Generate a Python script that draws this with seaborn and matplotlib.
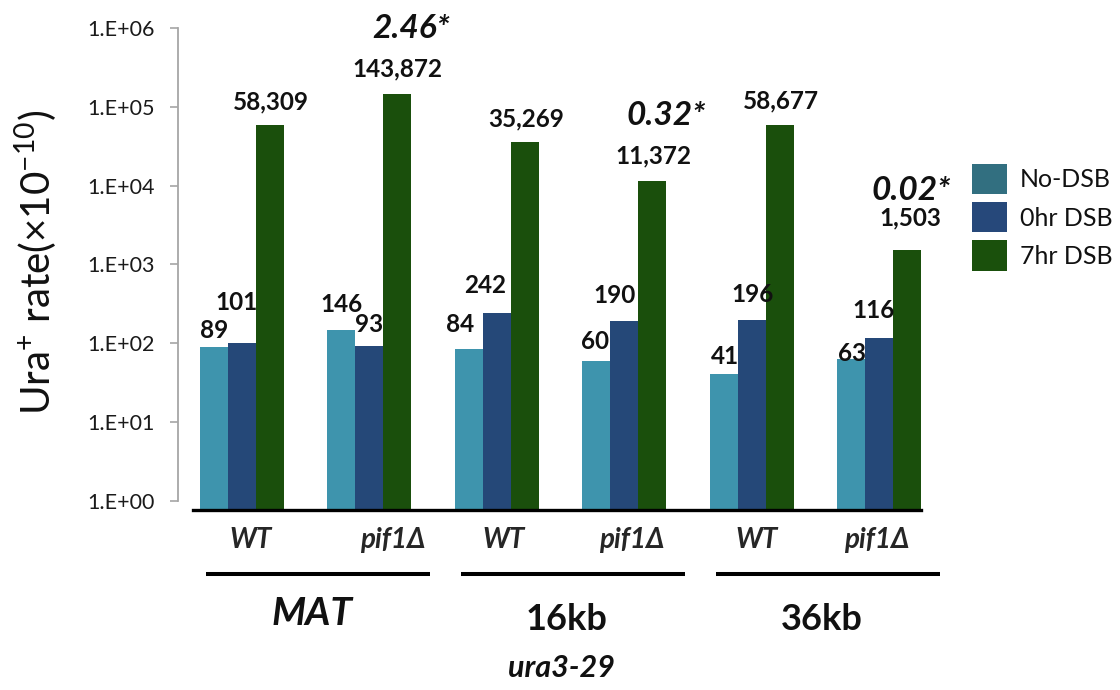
import numpy as np
import pandas as pd
import matplotlib
matplotlib.use("Agg")
import matplotlib.pyplot as plt
import seaborn as sns
from matplotlib.patches import Patch
from matplotlib.transforms import ScaledTranslation, blended_transform_factory

# ---------------- data ----------------
groups = ["MAT WT", "MAT pif1Δ", "16kb WT", "16kb pif1Δ", "36kb WT", "36kb pif1Δ"]
strain_labels = ["WT", "pif1Δ", "WT", "pif1Δ", "WT", "pif1Δ"]
loci = ["MAT", "16kb", "36kb"]
gene = "ura3-29"
conditions = ["No-DSB", "0hr DSB", "7hr DSB"]
no_dsb = [89, 146, 84, 60, 41, 63]
hr0_dsb = [101, 93, 242, 190, 196, 116]
hr7_dsb = [58309, 143872, 35269, 11372, 58677, 1503]
fold_labels = ["", "2.46*", "", "0.32*", "", "0.02*"]
ytick_values = [1, 10, 100, 1000, 10000, 100000, 1000000]
ytick_labels = ["1.E+00", "1.E+01", "1.E+02", "1.E+03", "1.E+04", "1.E+05", "1.E+06"]
ylabel = r"Ura$^{\mathregular{+}}$ rate(×10$^{\mathregular{-10}}$)"

# ---------------- style ----------------
bar_colors = ["#3e94ad", "#254878", "#1a4f0c"]
legend_colors = ["#326f80", "#26487a", "#1a500c"]

# label offsets (pixels): dx from bar centre, gap above bar top
label_dx = [[0, 0, -9, -1, 1, 1], [-5, 0, -12, -10, 1, -6], [1, 0, 1, 1, 1, 3]]
label_gap = [[9, 18, 17, 12, 10, -2], [33, 14, 20, 18, 18, 20], [16, 18, 16, 18, 17, 25]]
fold_dx = [0, 14, 0, 14, 0, 4]
fold_gap = [0, 56, 0, 56, 0, 50]
tick_dx = [9, 23, 7, 7, 5, -3]

sns.set_theme(style="white")
plt.rcParams["font.family"] = ["Lato", "DejaVu Sans"]
plt.rcParams["mathtext.fontset"] = "custom"
plt.rcParams["mathtext.rm"] = "Lato"

df = pd.DataFrame({
    "group": groups * 3,
    "condition": np.repeat(conditions, len(groups)),
    "value": no_dsb + hr0_dsb + hr7_dsb,
})

fig = plt.figure(figsize=(11.2, 6.9), dpi=100)
ax = fig.add_axes([178 / 1120, 1 - 510 / 690, (943 - 178) / 1120, (510 - 28) / 690])
ax.set_yscale("log")
sns.barplot(data=df, x="group", y="value", hue="condition", order=groups,
            hue_order=conditions, palette=bar_colors, saturation=1, width=0.66,
            gap=0, errorbar=None, legend=False, ax=ax, linewidth=0)
ax.set_xlim(-0.5, 5.5)
ax.set_ylim(10 ** -0.12, 1e6)

# axes styling
for s in ["top", "right"]:
    ax.spines[s].set_visible(False)
ax.spines["left"].set_color("#a6a6a6")
ax.spines["left"].set_linewidth(1.3)
ax.spines["left"].set_bounds(1, 1e6)
ax.spines["bottom"].set_color("black")
ax.spines["bottom"].set_linewidth(2.4)
ax.spines["bottom"].set_bounds(-0.385, 5.33)

ax.set_yticks(ytick_values)
ax.set_yticklabels(ytick_labels)
ax.yaxis.set_minor_locator(matplotlib.ticker.NullLocator())
ax.tick_params(axis="y", which="major", left=True, length=5.8, width=1.2,
               color="#a6a6a6", pad=11, labelsize=15.5, labelcolor="#1a1a1a")
ax.tick_params(axis="x", length=0, pad=12, labelsize=20)
ax.set_xticks(range(len(groups)))
ax.set_xticklabels(strain_labels, fontstyle="italic", fontweight="bold")
for lbl, dx in zip(ax.get_xticklabels(), tick_dx):
    lbl.set_transform(lbl.get_transform() + ScaledTranslation(dx / 100, 0, fig.dpi_scale_trans))
ax.set_xlabel("")
ax.set_ylabel("")
fig.text(36 / 1120, 1 - 262 / 690, ylabel, rotation=90, ha="center", va="center",
         fontsize=29, color="#111111")

# value labels
series = [no_dsb, hr0_dsb, hr7_dsb]
for ci, cont in enumerate(ax.containers):
    for gi, bar in enumerate(cont):
        xc = bar.get_x() + bar.get_width() / 2
        top = bar.get_height()
        ax.annotate(f"{series[ci][gi]:,}", (xc, top), xytext=(label_dx[ci][gi], label_gap[ci][gi]),
                    textcoords="offset pixels", ha="center", va="baseline",
                    fontsize=17.5, fontweight="bold", color="#111111")
        if ci == 2 and fold_labels[gi]:
            ax.annotate(fold_labels[gi], (xc, top), xytext=(fold_dx[gi], fold_gap[gi]),
                        textcoords="offset pixels", ha="center", va="baseline",
                        fontsize=24, fontweight="bold", fontstyle="italic", color="#111111")

# group lines and locus labels
trans = blended_transform_factory(ax.transData, ax.transAxes)
for k, name in enumerate(loci):
    c = 2 * k + 0.5
    ax.plot([c + 0.1 - 0.88, c + 0.1 + 0.88], [-0.133, -0.133], transform=trans,
            color="black", lw=2.9, clip_on=False, solid_capstyle="butt")
    ax.text(c + 0.05, -0.214 if k == 0 else -0.228, name, transform=trans,
            ha="center", va="center", fontsize=28 if k == 0 else 26, fontweight="bold",
            fontstyle="italic" if k == 0 else "normal", color="#111111")
ax.text(2.51, -0.328, gene, transform=trans, ha="center", va="center",
        fontsize=22, fontweight="bold", fontstyle="italic", color="#111111")

# legend
handles = [Patch(facecolor=c, edgecolor="none") for c in legend_colors]
ax.legend(handles, conditions, loc="upper left", bbox_to_anchor=(972 / 1120, 1 - 164 / 690),
          bbox_transform=fig.transFigure, frameon=False, fontsize=18,
          handlelength=1.4, handleheight=1.48, handletextpad=0.52, labelspacing=0.32,
          borderpad=0, borderaxespad=0, labelcolor="#111111")

fig.savefig("out.png", dpi=100)
